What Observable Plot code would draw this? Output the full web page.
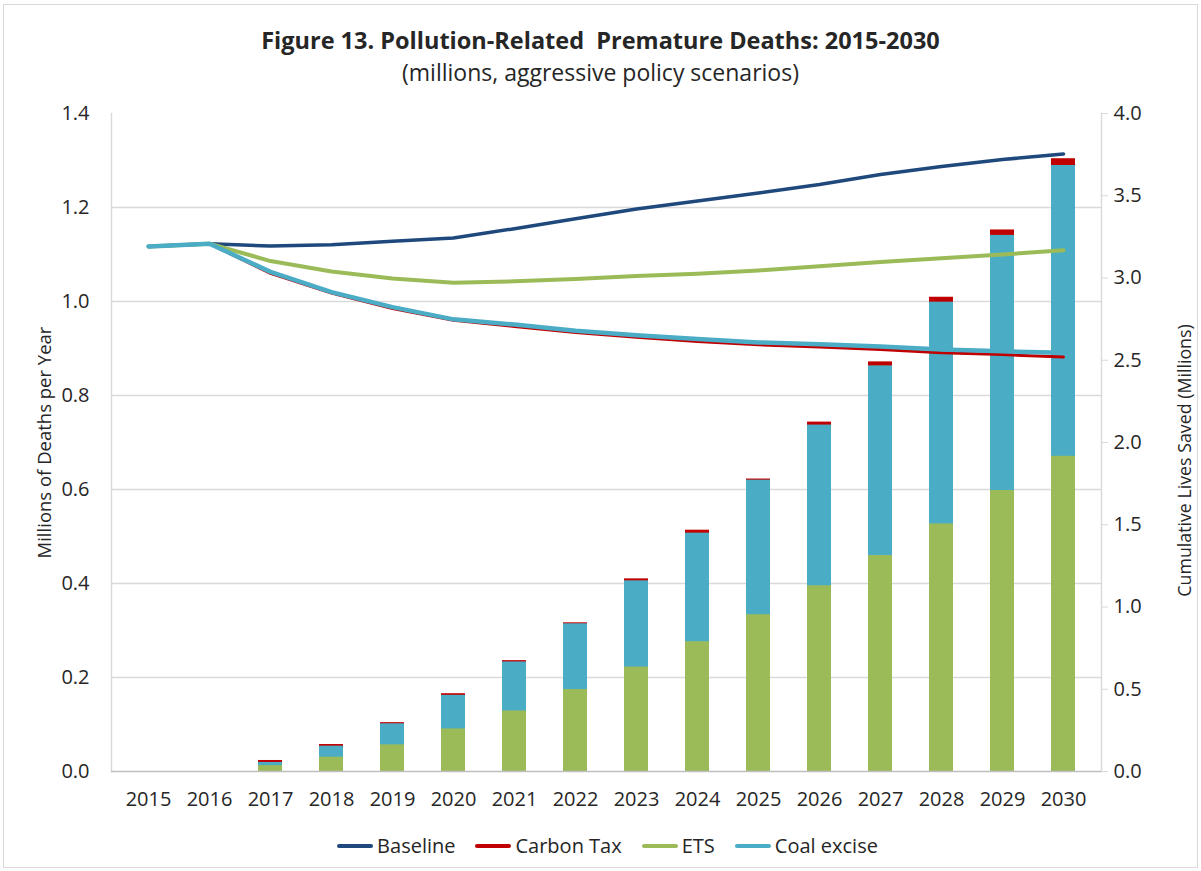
<!DOCTYPE html>
<html>
<head>
<meta charset="utf-8">
<script src="https://cdn.jsdelivr.net/npm/d3@7"></script>
<script src="https://cdn.jsdelivr.net/npm/@observablehq/plot@0.6"></script>
<style>
  body { margin: 0; background: #fff; font-family: "Open Sans", "Noto Sans", sans-serif; color: #262626; }
  #frame { position: absolute; left: 3px; top: 4px; width: 1195px; height: 864px; border: 1px solid #d9d9d9; box-sizing: border-box; }
  #title { position: absolute; left: 0; width: 1201px; top: 24px; text-align: center; font-weight: bold; font-size: 23.5px; line-height: 32px; }
  #subtitle { position: absolute; left: 0; width: 1201px; top: 57px; text-align: center; font-size: 23px; line-height: 30px; }
  #chart { position: absolute; left: 0; top: 95px; }
  #legend { position: absolute; left: 7px; width: 1201px; top: 832px; display: flex; justify-content: center; font-size: 20px; line-height: 28px; }
  .item { display: flex; align-items: center; margin: 0 10px; }
  .sw { width: 36px; height: 4px; margin-right: 4px; border-radius: 2px; }
</style>
</head>
<body>
<div id="frame"></div>
<div id="title">Figure 13. Pollution-Related&nbsp; Premature Deaths: 2015-2030</div>
<div id="subtitle">(millions, aggressive policy scenarios)</div>
<div id="chart"></div>
<div id="legend"></div>
<script>
// Categories
const years = ["2015","2016","2017","2018","2019","2020","2021","2022","2023","2024","2025","2026","2027","2028","2029","2030"];

// Annual premature deaths (millions, left axis)
const baseline  = [1.117,1.123,1.118,1.121,1.128,1.135,1.155,1.176,1.197,1.214,1.231,1.249,1.270,1.287,1.302,1.314];
const carbonTax = [1.117,1.123,1.060,1.018,0.985,0.960,0.947,0.934,0.924,0.915,0.908,0.903,0.898,0.891,0.887,0.882];
const ets       = [1.117,1.123,1.086,1.064,1.049,1.040,1.043,1.048,1.054,1.059,1.066,1.075,1.084,1.092,1.100,1.109];
const coalExcise= [1.117,1.123,1.063,1.020,0.988,0.962,0.951,0.938,0.928,0.920,0.913,0.909,0.904,0.898,0.894,0.891];

// Cumulative lives saved (millions, right axis)
const cumETS    = [0,0,0.036,0.087,0.162,0.259,0.368,0.498,0.635,0.789,0.953,1.129,1.313,1.505,1.708,1.916];
const cumCoal   = [0,0,0.055,0.154,0.290,0.463,0.666,0.898,1.159,1.449,1.771,2.106,2.466,2.853,3.259,3.684];
const cumCarbon = [0,0,0.067,0.164,0.297,0.473,0.674,0.904,1.171,1.467,1.778,2.124,2.490,2.883,3.292,3.725];

// Tick labels
const leftTicks  = [0,0.2,0.4,0.6,0.8,1.0,1.2,1.4];
const rightTicks = [0,0.5,1.0,1.5,2.0,2.5,3.0,3.5,4.0];
const gridTicks  = [0.2,0.4,0.6,0.8,1.0,1.2];

const seriesNames = ["Baseline","Carbon Tax","ETS","Coal excise"];
const seriesColors = ["#1F497D","#C00000","#9BBB59","#4BACC6"];

const leftMax = 1.4, rightMax = 4.0;
const k = leftMax / rightMax;

const rows = years.map((year, i) => ({
  year,
  baseline: baseline[i], carbonTax: carbonTax[i], ets: ets[i], coalExcise: coalExcise[i],
  cumETS: cumETS[i] * k, cumCoal: cumCoal[i] * k, cumCarbon: cumCarbon[i] * k
}));

const plot = Plot.plot({
  width: 1201,
  height: 725,
  marginTop: 18,
  marginBottom: 49,
  marginLeft: 111,
  marginRight: 100,
  style: { fontFamily: '"Open Sans", "Noto Sans", sans-serif', fontSize: "20px", color: "#262626", background: "transparent" },
  x: { type: "band", domain: years, paddingInner: 0.6, paddingOuter: 0.3, axis: null },
  y: { domain: [0, leftMax], axis: null },
  marks: [
    Plot.ruleY(gridTicks, { stroke: "#d9d9d9", strokeWidth: 1.4 }),
    Plot.frame({ anchor: "left", stroke: "#d9d9d9", strokeWidth: 1.4 }),
    Plot.frame({ anchor: "right", stroke: "#d9d9d9", strokeWidth: 1.4 }),
    Plot.barY(rows, { x: "year", y: "cumCarbon", fill: "#C00000" }),
    Plot.barY(rows, { x: "year", y: "cumCoal", fill: "#4BACC6" }),
    Plot.barY(rows, { x: "year", y: "cumETS", fill: "#9BBB59" }),
    Plot.ruleY([0], { stroke: "#bfbfbf", strokeWidth: 1.5 }),
    Plot.line(rows, { x: "year", y: "baseline", stroke: seriesColors[0], strokeWidth: 3.5 }),
    Plot.line(rows, { x: "year", y: "carbonTax", stroke: seriesColors[1], strokeWidth: 3 }),
    Plot.line(rows, { x: "year", y: "ets", stroke: seriesColors[2], strokeWidth: 4 }),
    Plot.line(rows, { x: "year", y: "coalExcise", stroke: seriesColors[3], strokeWidth: 4.5 }),
    Plot.axisX({ tickSize: 0, tickPadding: 20, fontSize: 20, fill: "#262626", label: null }),
    Plot.axisY(leftTicks, { anchor: "left", tickSize: 0, tickPadding: 22, fontSize: 20, fill: "#262626", tickFormat: d => d.toFixed(1), label: null }),
    Plot.axisY(rightTicks.map(v => v * k), { anchor: "right", tickSize: 6, stroke: "#d9d9d9", tickPadding: 6, fontSize: 20, fill: "#262626", tickFormat: d => (d / k).toFixed(1), label: null }),
    Plot.text(["Millions of Deaths per Year"], { frameAnchor: "left", textAnchor: "middle", dx: -66, rotate: -90, fontSize: 18.5, fill: "#262626" }),
    Plot.text(["Cumulative Lives Saved (Millions)"], { frameAnchor: "right", textAnchor: "middle", dx: 84, dy: 18, rotate: -90, fontSize: 17.8, fill: "#262626" })
  ]
});
document.getElementById("chart").appendChild(plot);

const legend = document.getElementById("legend");
seriesNames.forEach((name, i) => {
  const item = document.createElement("div");
  item.className = "item";
  const sw = document.createElement("span");
  sw.className = "sw";
  sw.style.background = seriesColors[i];
  const t = document.createElement("span");
  t.textContent = name;
  item.appendChild(sw);
  item.appendChild(t);
  legend.appendChild(item);
});
</script>
</body>
</html>
